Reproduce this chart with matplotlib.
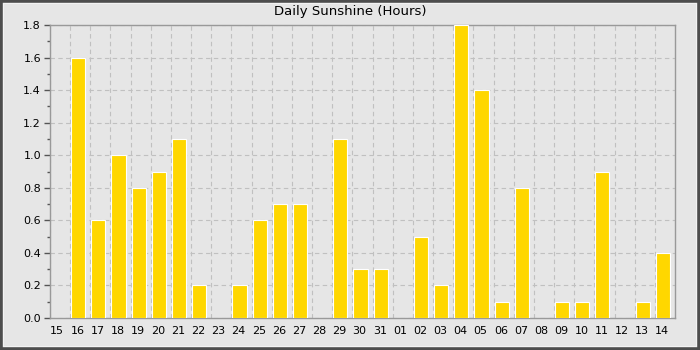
import matplotlib
matplotlib.use("Agg")
import matplotlib.pyplot as plt
from matplotlib.ticker import MultipleLocator, FormatStrFormatter
from matplotlib.patches import Rectangle

days = ["15", "16", "17", "18", "19", "20", "21", "22", "23", "24", "25", "26", "27", "28",
        "29", "30", "31", "01", "02", "03", "04", "05", "06", "07", "08", "09", "10", "11",
        "12", "13", "14"]
sunshine = [0.0, 1.6, 0.6, 1.0, 0.8, 0.9, 1.1, 0.2, 0.0, 0.2, 0.6, 0.7, 0.7, 0.0,
            1.1, 0.3, 0.3, 0.0, 0.5, 0.2, 1.8, 1.4, 0.1, 0.8, 0.0, 0.1, 0.1, 0.9,
            0.0, 0.1, 0.4]

bg = "#e6e6e6"
fig = plt.figure(figsize=(7, 3.5), dpi=100, facecolor=bg)
ax = fig.add_axes([50/700, 1-318/350, 625/700, 293/350])
ax.set_facecolor(bg)

x = list(range(len(days)))
ax.bar([i + 0.05 for i in x], sunshine, width=0.7, align="edge",
       color="#ffd700", edgecolor="white", linewidth=0.8, zorder=3)

ax.set_xlim(0, len(days))
ax.set_ylim(0, 1.8)
ax.yaxis.set_major_locator(MultipleLocator(0.2))
ax.yaxis.set_minor_locator(MultipleLocator(0.1))
ax.set_xticks([i + 0.36 for i in x])
ax.set_xticklabels(days)
ax.set_xticks(x, minor=True)
ax.tick_params(axis="x", which="both", length=0, labelsize=8, pad=6)
ax.tick_params(axis="y", which="major", length=4, width=1, color="#555555", labelsize=8, pad=2.5)
ax.tick_params(axis="y", which="minor", length=2.2, width=1, color="#555555")
ax.yaxis.set_major_formatter(FormatStrFormatter("%.1f"))

ax.grid(True, axis="y", which="major", linestyle=(0, (4, 3)), color="#c0c0c0", linewidth=0.8, zorder=0)
ax.grid(True, axis="x", which="minor", linestyle=(0, (4, 3)), color="#c0c0c0", linewidth=0.8, zorder=0)

for s in ax.spines.values():
    s.set_color("#999999")
    s.set_linewidth(1)

fig.text(0.5, 1-12/350, "Daily Sunshine (Hours)", ha="center", va="center", fontsize=9.5)

fig.patches.append(Rectangle((0, 0), 1, 1, transform=fig.transFigure, fill=False,
                             edgecolor="#4d4d4d", linewidth=4, zorder=10))
fig.patches.append(Rectangle((3/700, 4/350), 1-7/700, 1-7/350, transform=fig.transFigure,
                             fill=False, edgecolor="#f4f4f4", linewidth=0.7, zorder=9))

fig.savefig("out.png", dpi=100, facecolor=bg)
